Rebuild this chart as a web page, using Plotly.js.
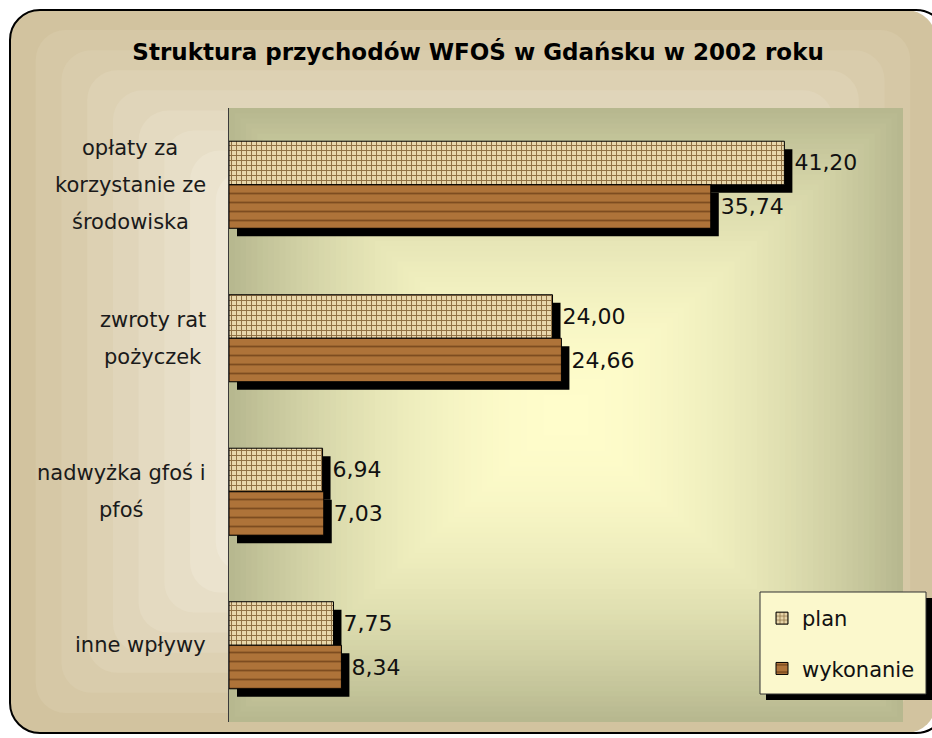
<!DOCTYPE html>
<html>
<head>
<meta charset="utf-8">
<script src="https://cdn.plot.ly/plotly-3.0.1.min.js"></script>
<style>
html,body{margin:0;padding:0;background:#ffffff;}
#chart{width:932px;height:738px;}
</style>
</head>
<body>
<div id="chart"></div>
<script>
// ---- data ----
var categories = ['opłaty za korzystanie ze środowiska', 'zwroty rat pożyczek', 'nadwyżka gfoś i pfoś', 'inne wpływy'];
var categoryLabels = [['opłaty za', 'korzystanie ze', 'środowiska'], ['zwroty rat', 'pożyczek'], ['nadwyżka gfoś i', 'pfoś'], ['inne wpływy']];
var planValues = [41.20, 24.00, 6.94, 7.75];
var wykonanieValues = [35.74, 24.66, 7.03, 8.34];
var seriesNames = ['plan', 'wykonanie'];
var chartTitle = 'Struktura przychodów WFOŚ w Gdańsku w 2002 roku';

// ---- geometry ----
var W = 932, H = 738;
var M = {l: 229, r: 29, t: 108, b: 16};
var plotW = W - M.l - M.r, plotH = H - M.t - M.b;
var xMax = 50;
var shadowPx = 8;
var xShift = shadowPx * xMax / plotW;
var yShift = shadowPx * categories.length / plotH;
function px2paperX(px){ return (px - M.l) / plotW; }
function px2paperY(py){ return (H - M.b - py) / plotH; }

function hex2rgb(h){ return [parseInt(h.substr(1,2),16), parseInt(h.substr(3,2),16), parseInt(h.substr(5,2),16)]; }
function lerp(a, b, t){ var A = hex2rgb(a), B = hex2rgb(b); return 'rgb(' + [0,1,2].map(function(i){ return Math.round(A[i] + (B[i]-A[i]) * t); }).join(',') + ')'; }

// outer frame background (rectangular gradient bands, rounded)
function frameSVG(){
  var s = '<svg xmlns="http://www.w3.org/2000/svg" width="' + W + '" height="' + H + '" viewBox="0 0 ' + W + ' ' + H + '" preserveAspectRatio="none">';
  var x0 = 10, y0 = 10, x1 = 936, y1 = 733;
  var N = 18, bw = (x1 - x0) / 2 / N, bh = (y1 - y0) / 2 / N;
  for (var i = 0; i < N; i++) {
    var t = Math.min(1, i / 10);
    s += '<rect x="' + (x0 + i*bw) + '" y="' + (y0 + i*bh) + '" width="' + (x1 - x0 - 2*i*bw) + '" height="' + (y1 - y0 - 2*i*bh) + '" rx="30" ry="30" fill="' + lerp('#d2c39f', '#f5f0e2', t) + '"/>';
  }
  s += '<rect x="' + x0 + '" y="' + y0 + '" width="' + (x1 + 10 - x0) + '" height="' + (y1 - y0) + '" rx="30" ry="30" fill="none" stroke="#000" stroke-width="2"/>';
  s += '</svg>';
  return 'data:image/svg+xml;charset=utf-8,' + encodeURIComponent(s);
}
// plot area background (rectangular gradient from centre)
function plotBgSVG(){
  var s = '<svg xmlns="http://www.w3.org/2000/svg" width="' + plotW + '" height="' + plotH + '" viewBox="0 0 ' + plotW + ' ' + plotH + '" preserveAspectRatio="none">';
  var N = 60, bw = plotW / 2 / N, bh = plotH / 2 / N;
  for (var i = 0; i < N; i++) {
    var t = 1 - i / N;
    s += '<rect x="' + (i*bw) + '" y="' + (i*bh) + '" width="' + (plotW - 2*i*bw) + '" height="' + (plotH - 2*i*bh) + '" fill="' + lerp('#fffdcb', '#b7b88f', Math.pow(t, 1.9)) + '"/>';
  }
  s += '</svg>';
  return 'data:image/svg+xml;charset=utf-8,' + encodeURIComponent(s);
}

var planMarker = {color: '#e3cf9f', line: {color: '#000', width: 1},
  pattern: {shape: '+', bgcolor: '#e8d7ab', fgcolor: '#8f7043', size: 5, solidity: 0.35, fillmode: 'replace'}};
var wykMarker = {color: '#a96d32', line: {color: '#000', width: 1},
  pattern: {shape: '-', bgcolor: '#ae7339', fgcolor: '#7d4c20', size: 9, solidity: 0.2, fillmode: 'replace'}};

var valueFont = {family: 'DejaVu Sans, sans-serif', size: 22, color: '#111'};

var traces = [
  {type: 'bar', orientation: 'h', y: categories, x: planValues, xaxis: 'x', yaxis: 'y',
   marker: {color: '#000'}, showlegend: false, hoverinfo: 'skip'},
  {type: 'bar', orientation: 'h', y: categories, x: wykonanieValues, xaxis: 'x', yaxis: 'y',
   marker: {color: '#000'}, showlegend: false, hoverinfo: 'skip'},
  {type: 'bar', orientation: 'h', name: seriesNames[0], y: categories, x: planValues, xaxis: 'x2', yaxis: 'y2',
   marker: planMarker, legendgroup: 'a', texttemplate: '\u00a0%{x:.2f}', textposition: 'outside', textfont: valueFont, cliponaxis: false},
  {type: 'bar', orientation: 'h', name: seriesNames[1], y: categories, x: wykonanieValues, xaxis: 'x2', yaxis: 'y2',
   marker: wykMarker, legendgroup: 'b', texttemplate: '\u00a0%{x:.2f}', textposition: 'outside', textfont: valueFont, cliponaxis: false}
];

// category labels as centred multi-line blocks, right-aligned to the axis
var labelFont = {family: 'DejaVu Sans, sans-serif', size: 21, color: '#1a1a1a'};
var cv = document.createElement('canvas').getContext('2d');
cv.font = labelFont.size + 'px "DejaVu Sans"';
var labelRight = 206, lineGap = 37;
var annotations = [];
categoryLabels.forEach(function(lines, i){
  var maxW = 0;
  lines.forEach(function(l){ maxW = Math.max(maxW, cv.measureText(l).width); });
  var cx = labelRight - maxW / 2;
  lines.forEach(function(l, j){
    annotations.push({text: l, xref: 'paper', yref: 'y2', x: px2paperX(cx), y: categories[i],
      xanchor: 'center', yanchor: 'middle', showarrow: false, font: labelFont,
      yshift: -(j - (lines.length - 1) / 2) * lineGap});
  });
});

var shapes = [
  {type: 'rect', xref: 'paper', yref: 'paper', x0: px2paperX(766), x1: px2paperX(932), y0: px2paperY(700), y1: px2paperY(598),
   fillcolor: '#000', line: {width: 0}, layer: 'above'},
  {type: 'rect', xref: 'paper', yref: 'paper', x0: px2paperX(760), x1: px2paperX(926), y0: px2paperY(694), y1: px2paperY(592),
   fillcolor: '#fbf8cc', line: {color: '#333', width: 1}, layer: 'above'}
];

var layout = {
  width: W, height: H,
  margin: M,
  paper_bgcolor: '#ffffff',
  plot_bgcolor: 'rgba(0,0,0,0)',
  separators: ', ',
  barmode: 'group', bargap: 0.433, bargroupgap: 0,
  title: {text: chartTitle, x: 0.513, xanchor: 'center', y: 1 - 52 / H, yanchor: 'middle',
    font: {family: 'DejaVu Sans, sans-serif', size: 23, color: '#000', weight: 'bold'}},
  xaxis: {range: [-xShift, xMax - xShift], visible: false, fixedrange: true},
  yaxis: {range: [categories.length - 0.5 - yShift, -0.5 - yShift], visible: false, type: 'category', categoryarray: categories, fixedrange: true},
  xaxis2: {overlaying: 'x', range: [0, xMax], showgrid: false, zeroline: false, showticklabels: false, ticks: '', showline: false},
  yaxis2: {overlaying: 'y', range: [categories.length - 0.5, -0.5], type: 'category', categoryarray: categories,
    showgrid: false, showticklabels: false, ticks: '', showline: true, linecolor: '#3a3a3a', linewidth: 1},
  showlegend: true,
  legend: {x: px2paperX(762), y: px2paperY(598), xanchor: 'left', yanchor: 'top', bgcolor: 'rgba(0,0,0,0)', borderwidth: 0,
    font: {family: 'DejaVu Sans, sans-serif', size: 21, color: '#111'}, traceorder: 'grouped', tracegroupgap: 20, itemwidth: 30},
  annotations: annotations,
  shapes: shapes,
  images: [
    {source: frameSVG(), xref: 'paper', yref: 'paper', x: px2paperX(0), y: px2paperY(0), sizex: W / plotW, sizey: H / plotH,
     xanchor: 'left', yanchor: 'top', sizing: 'stretch', layer: 'below'},
    {source: plotBgSVG(), xref: 'paper', yref: 'paper', x: 0, y: 1, sizex: 1, sizey: 1,
     xanchor: 'left', yanchor: 'top', sizing: 'stretch', layer: 'below'}
  ]
};

Plotly.newPlot('chart', traces, layout, {displayModeBar: false, staticPlot: true});
</script>
</body>
</html>
